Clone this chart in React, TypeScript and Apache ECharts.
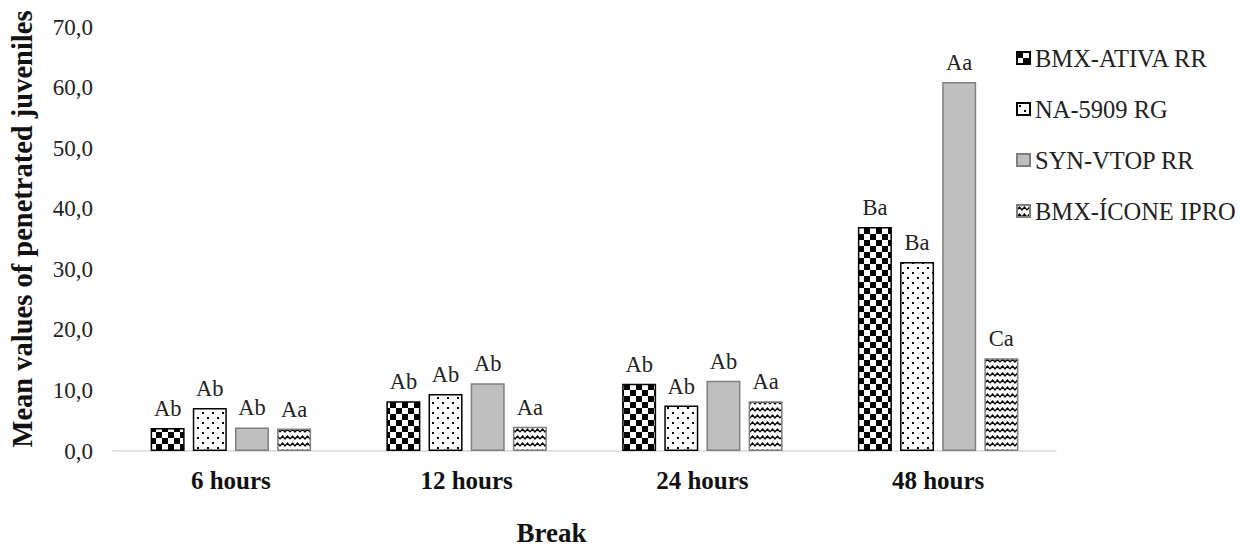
import React, { useEffect, useRef } from "react";
import * as echarts from "echarts";

const categories = ["6 hours", "12 hours", "24 hours", "48 hours"];
const seriesNames = ["BMX-ATIVA RR", "NA-5909 RG", "SYN-VTOP RR", "BMX-ÍCONE IPRO"];
const ativa = [3.8, 8.2, 11.1, 37.0];
const na5909 = [7.1, 9.4, 7.5, 31.2];
const synVtop = [3.9, 11.2, 11.6, 60.9];
const icone = [3.7, 4.0, 8.2, 15.3];
const ativaLetters = ["Ab", "Ab", "Ab", "Ba"];
const na5909Letters = ["Ab", "Ab", "Ab", "Ba"];
const synVtopLetters = ["Ab", "Ab", "Ab", "Aa"];
const iconeLetters = ["Aa", "Aa", "Aa", "Ca"];
const yTicks = { min: 0, max: 70, interval: 10 };

function makeCanvas(w: number, h: number, draw: (ctx: CanvasRenderingContext2D) => void) {
  const c = document.createElement("canvas");
  c.width = w;
  c.height = h;
  const ctx = c.getContext("2d")!;
  ctx.fillStyle = "#ffffff";
  ctx.fillRect(0, 0, w, h);
  draw(ctx);
  return { image: c, repeat: "repeat", imageWidth: w, imageHeight: h } as any;
}

export default function App() {
  const ref = useRef<HTMLDivElement>(null);
  useEffect(() => {
    if (!ref.current) return;
    const chart = echarts.init(ref.current, undefined, { renderer: "svg" });

    const checker = makeCanvas(12, 12, (ctx) => {
      ctx.fillStyle = "#000";
      ctx.fillRect(0, 0, 6, 6);
      ctx.fillRect(6, 6, 6, 6);
    });
    const dots = makeCanvas(10, 10, (ctx) => {
      ctx.fillStyle = "#000";
      ctx.fillRect(2, 2, 2, 2);
      ctx.fillRect(7, 7, 2, 2);
    });
    const wave = makeCanvas(10, 7, (ctx) => {
      ctx.strokeStyle = "#000";
      ctx.lineWidth = 1.4;
      ctx.beginPath();
      ctx.moveTo(0, 5);
      ctx.lineTo(2.5, 2);
      ctx.lineTo(5, 5);
      ctx.lineTo(7.5, 2);
      ctx.lineTo(10, 5);
      ctx.stroke();
    });

    const font = "'Liberation Serif', 'Times New Roman', serif";
    const mk = (name: string, data: number[], letters: string[], color: any, border: string) => ({
      name,
      type: "bar",
      data,
      barWidth: 34,
      barGap: "24%",
      itemStyle: { color, borderColor: border, borderWidth: 1.5 },
      label: {
        show: true,
        position: "top",
        distance: 8,
        formatter: (p: any) => letters[p.dataIndex],
        fontFamily: font,
        fontSize: 22.5,
        color: "#222",
      },
    });

    chart.setOption({
      animation: false,
      textStyle: { fontFamily: font },
      grid: { left: 113, right: 184, top: 27, bottom: 92 },
      legend: {
        orient: "vertical",
        left: 1016,
        top: 45,
        itemWidth: 13,
        itemHeight: 12,
        itemGap: 25,
        padding: 0,
        icon: "rect",
        textStyle: { fontFamily: font, fontSize: 24.5, color: "#222", lineHeight: 26 },
        data: seriesNames,
      },
      xAxis: {
        type: "category",
        data: categories,
        axisTick: { show: false },
        axisLine: { lineStyle: { color: "#d9d9d9", width: 1.5 } },
        axisLabel: { fontFamily: font, fontSize: 25, fontWeight: "bold", color: "#111", margin: 17 },
        name: "Break",
        nameLocation: "middle",
        nameGap: 68,
        nameTextStyle: { fontFamily: font, fontSize: 27, fontWeight: "bold", color: "#111", padding: [0, 66, 0, 0] },
      },
      yAxis: {
        type: "value",
        min: yTicks.min,
        max: yTicks.max,
        interval: yTicks.interval,
        splitLine: { show: false },
        axisLine: { show: false },
        axisTick: { show: false },
        axisLabel: {
          fontFamily: font,
          fontSize: 23,
          color: "#222",
          margin: 20,
          formatter: (v: number) => v.toFixed(1).replace(".", ","),
        },
        name: "Mean values of penetrated juveniles",
        nameLocation: "middle",
        nameGap: 76,
        nameTextStyle: { fontFamily: font, fontSize: 28.5, fontWeight: "bold", color: "#111", padding: [0, 0, 0, 20] },
      },
      series: [
        mk(seriesNames[0], ativa, ativaLetters, checker, "#000"),
        mk(seriesNames[1], na5909, na5909Letters, dots, "#000"),
        mk(seriesNames[2], synVtop, synVtopLetters, "#bfbfbf", "#7f7f7f"),
        mk(seriesNames[3], icone, iconeLetters, wave, "#7f7f7f"),
      ],
    });
    return () => chart.dispose();
  }, []);
  return <div ref={ref} style={{ position: "absolute", left: 0, top: 0, width: 1240, height: 551 }} />;
}
